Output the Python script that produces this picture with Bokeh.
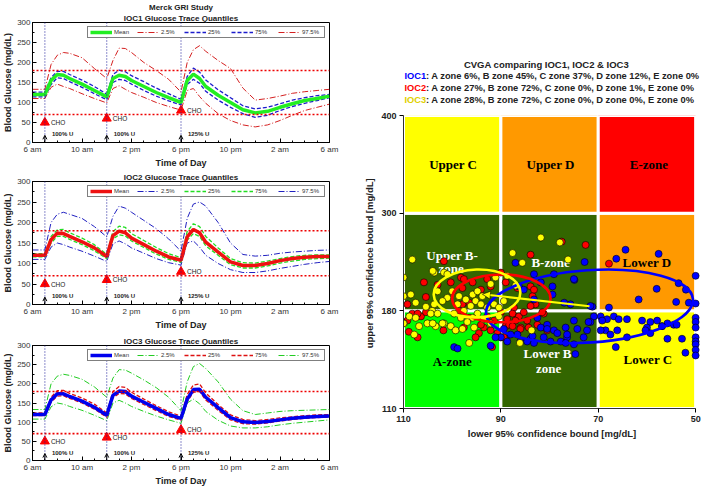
import numpy as np
from bokeh.plotting import figure
from bokeh.models import (Range1d, FixedTicker, Span, Legend, LegendItem, Arrow, OpenHead,
                          NormalHead, Title, ColumnDataSource)
from bokeh.layouts import row, column
from bokeh.embed import file_html
from bokeh.resources import INLINE
from bokeh.core.properties import value

# ------------------------------------------------------------------ data
hours = [0, 1, 1.5, 2, 2.5, 3, 4, 5, 6, 6.5, 7, 7.5, 8, 9, 10, 11, 12, 12.5, 13, 13.5,
         14, 15, 16, 17, 18, 19, 20, 21, 22, 23, 24]
time_ticks = [0, 4, 8, 12, 16, 20, 24]
time_labels = ["6 am", "10 am", "2 pm", "6 pm", "10 pm", "2 am", "6 am"]
glucose_ticks = [0, 50, 100, 150, 200, 250, 300]
limits = [70, 180]
meal_hours = [1, 6, 12]
cho_marks = [50, 60, 80]
insulin_labels = ["100% U", "100% U", "125% U"]
quantile_names = ["Mean", "2.5%", "25%", "75%", "97.5%"]

ioc1_mean = [120, 120, 155, 170, 168, 160, 146, 130, 114, 160, 168, 165, 155, 140, 125, 112, 100, 155, 171, 160,
             140, 118, 100, 82, 74, 78, 88, 97, 105, 110, 116]
ioc1_q75 = [126, 126, 162, 178, 178, 170, 156, 140, 121, 170, 181, 177, 167, 152, 136, 122, 108, 165, 186, 176,
            156, 132, 112, 92, 84, 88, 97, 106, 112, 117, 120]
ioc1_q25 = [114, 114, 145, 162, 160, 152, 138, 122, 107, 150, 158, 155, 146, 130, 116, 104, 94, 145, 158, 148,
            128, 106, 88, 72, 63, 68, 80, 90, 98, 105, 112]
ioc1_q975 = [133, 133, 195, 218, 225, 223, 212, 185, 160, 205, 236, 235, 225, 200, 180, 158, 126, 200, 232, 242,
             228, 205, 185, 136, 106, 110, 116, 123, 127, 130, 133]
ioc1_q025 = [110, 110, 138, 146, 140, 135, 122, 110, 99, 135, 142, 133, 125, 113, 100, 90, 81, 130, 135, 115,
             98, 72, 55, 44, 39, 44, 55, 68, 80, 88, 96]

ioc2_mean = [120, 120, 158, 174, 173, 166, 153, 138, 117, 168, 179, 175, 162, 146, 130, 116, 108, 165, 183, 175,
             152, 128, 104, 95, 95, 100, 107, 112, 115, 117, 117]
ioc2_q75 = [124, 124, 166, 182, 183, 175, 162, 146, 122, 178, 191, 188, 173, 156, 139, 124, 114, 178, 197, 190,
            166, 138, 112, 102, 101, 106, 112, 117, 120, 121, 121]
ioc2_q25 = [116, 116, 150, 166, 166, 159, 146, 131, 112, 160, 170, 167, 155, 139, 123, 110, 103, 157, 173, 166,
            143, 120, 97, 89, 89, 94, 101, 106, 110, 112, 113]
ioc2_q975 = [133, 133, 200, 220, 225, 220, 210, 190, 165, 215, 240, 235, 225, 205, 185, 160, 130, 210, 245, 250,
             240, 200, 150, 122, 118, 120, 125, 128, 130, 132, 133]
ioc2_q025 = [110, 110, 140, 150, 146, 140, 130, 118, 105, 148, 155, 148, 138, 125, 112, 102, 96, 150, 155, 140,
             120, 100, 85, 78, 78, 82, 88, 93, 98, 102, 105]

ioc3_mean = [120, 120, 158, 174, 174, 167, 155, 139, 118, 170, 181, 180, 168, 152, 136, 120, 110, 160, 185, 186,
             165, 138, 112, 101, 99, 102, 106, 110, 113, 115, 116]
ioc3_q75 = [124, 124, 165, 182, 183, 175, 163, 147, 124, 180, 193, 191, 178, 160, 143, 127, 116, 172, 197, 200,
            176, 146, 119, 107, 104, 107, 111, 114, 117, 119, 120]
ioc3_q25 = [117, 117, 152, 168, 169, 162, 150, 134, 113, 163, 175, 174, 162, 146, 130, 115, 105, 153, 178, 180,
            158, 131, 106, 96, 95, 98, 103, 107, 110, 112, 113]
ioc3_q975 = [133, 133, 200, 220, 225, 222, 212, 192, 165, 215, 237, 236, 228, 210, 190, 165, 130, 205, 245, 253,
             240, 205, 160, 130, 120, 124, 128, 130, 131, 132, 133]
ioc3_q025 = [108, 108, 140, 150, 147, 141, 131, 118, 104, 150, 157, 150, 141, 128, 116, 106, 97, 150, 160, 148,
             128, 105, 90, 85, 85, 88, 93, 97, 100, 103, 106]

# CVGA: lower 95% bound (x) and upper 95% bound (y), mg/dL
cvga_x_ticks = [110, 90, 70, 50]
cvga_y_ticks = [110, 180, 300, 400]

ioc1_pts = [(64.4, 255), (66.3, 244), (57.6, 250), (50.0, 223), (53.5, 214), (52.0, 206), (58.0, 207),
            (61.7, 194), (54.0, 191), (51.4, 190), (50.0, 189), (74.9, 218), (72.8, 240), (71.2, 185),
            (67.8, 184), (71.6, 186), (75.7, 188), (79.4, 200), (81.8, 215), (87.0, 239), (86.3, 210),
            (83.2, 194), (69.5, 176), (68.2, 174), (66.8, 176), (65.8, 174), (64.1, 174), (61.0, 173),
            (59.3, 172), (57.9, 173), (55.8, 171), (54.5, 170), (50.0, 175), (50.0, 172), (50.0, 168),
            (50.0, 161), (50.0, 158), (50.0, 156), (50.0, 152), (50.0, 148), (52.1, 150), (52.8, 160),
            (55.8, 160), (56.9, 169), (60.0, 168), (59.3, 164), (66.4, 154), (66.1, 166), (64.1, 161),
            (68.5, 166), (67.5, 163), (69.2, 173), (70.9, 176), (71.6, 172), (72.3, 166), (73.0, 161),
            (75.0, 156), (74.7, 149), (76.4, 161), (77.7, 158), (79.1, 166), (80.5, 170), (81.8, 168),
            (83.9, 160), (86.0, 158), (86.6, 163), (88.7, 158), (90.0, 161), (91.1, 161), (99.6, 154),
            (98.9, 153), (83.2, 225), (79.1, 225), (75.0, 219), (85.3, 206), (79.4, 210), (77.0, 190),
            (82.5, 175), (80.5, 167), (78.4, 164), (76.7, 168), (75.0, 173), (74.3, 167), (76.4, 163),
            (76.7, 157), (79.8, 158), (81.2, 161), (83.5, 162), (83.2, 157), (84.6, 158), (88.0, 163),
            (89.4, 167), (92.1, 155), (72.0, 172), (69.5, 166), (60.3, 166), (53.9, 170), (56.9, 169)]
ioc2_pts = [(105.8, 215), (103.0, 212), (100.3, 215), (98.2, 221), (97.9, 208), (95.8, 215), (92.8, 219),
            (92.1, 210), (94.1, 206), (90.0, 227), (89.0, 215), (86.6, 208), (83.9, 210), (83.5, 198),
            (82.9, 188), (87.3, 184), (87.6, 178), (86.3, 176), (85.3, 179), (84.6, 173), (87.0, 173),
            (88.7, 174), (90.0, 179), (89.0, 169), (90.7, 164), (92.1, 166), (93.5, 168), (94.5, 164),
            (95.2, 161), (94.1, 170), (96.5, 175), (97.6, 168), (98.6, 180), (106.4, 176), (108.2, 178),
            (109.2, 173), (105.4, 179), (107.1, 178), (82.5, 170), (81.2, 178), (80.5, 166), (109.2, 188),
            (96.5, 190), (97.9, 188), (92.8, 176), (91.4, 173), (83.9, 186), (85.9, 168), (90.0, 161),
            (105.4, 197), (101.7, 241), (108.9, 165), (107.1, 161), (101.8, 166), (72.6, 261), (83.9, 249),
            (67.8, 238), (83.2, 206), (81.5, 179), (91.8, 154), (88.3, 170), (97.6, 219), (77.5, 265),
            (87.6, 169), (86.0, 167), (84.3, 168), (89.4, 161)]
ioc3_pts = [(110.0, 198), (108.5, 200), (107.5, 190), (105.4, 185), (104.1, 180), (103.7, 188), (108.8, 176),
            (109.9, 171), (107.8, 163), (106.8, 169), (105.1, 171), (104.4, 178), (103.0, 178), (103.4, 169),
            (101.7, 171), (100.3, 169), (99.3, 166), (97.9, 167), (96.5, 157), (97.6, 180), (98.9, 188),
            (101.0, 196), (100.0, 204), (98.6, 198), (97.2, 194), (95.8, 200), (94.8, 204), (95.2, 192),
            (94.1, 188), (92.8, 184), (91.4, 188), (90.4, 184), (89.4, 192), (94.8, 178), (93.5, 174),
            (95.8, 175), (96.9, 172), (95.5, 168), (92.1, 213), (91.1, 221), (88.7, 223), (87.0, 211),
            (103.7, 227), (101.7, 227), (103.0, 204), (102.0, 192), (98.2, 175), (96.2, 186), (93.8, 198),
            (90.4, 176), (92.1, 171), (99.6, 178), (108.2, 243), (110.0, 221), (104.0, 229), (101.0, 225),
            (110.0, 171), (107.5, 175), (87.6, 251), (85.6, 239), (77.9, 264), (83.7, 166), (86.1, 157),
            (81.8, 270), (76.2, 243), (102.0, 171), (104.0, 171)]

# ellipse centres (mg/dL) and extents (zone units) for IOC1, IOC2, IOC3
ell_lower = [71.8, 89.9, 94.9]
ell_upper = [185.5, 195.3, 201.4]
ell_width = [2.13, 1.01, 0.89]
ell_height = [0.74, 0.49, 0.49]
ell_angle = [0.07, 0.0, 0.03]

cvga_title = "CVGA comparing IOC1, IOC2 & IOC3"
cvga_lines = [
    ("IOC1", ": A zone 6%, B zone 45%, C zone  37%, D zone  12%, E zone 0%"),
    ("IOC2", ": A zone 27%, B zone 72%, C zone  0%, D zone  1%, E zone 0%"),
    ("IOC3", ": A zone 28%, B zone 72%, C zone  0%, D zone  0%, E zone 0%"),
]

SANS = "Liberation Sans"
SERIF = "Liberation Serif"


# ------------------------------------------------------------------ left panels
def quantile_panel(titles, mean, q025, q25, q75, q975, c_mean, c_outer, c_inner, height, bottom):
    p = figure(width=351, height=height, title=None, x_range=Range1d(0, 24), y_range=Range1d(0, 300),
               output_backend="svg", toolbar_location=None,
               min_border_left=2, min_border_right=22, min_border_top=2, min_border_bottom=bottom)
    for t in titles:
        p.add_layout(Title(text=t, align="center", text_font=SANS, text_font_size="8px",
                           text_font_style="bold", text_color="#222222", standoff=0, offset=0), "above")
    p.outline_line_color = "black"
    p.outline_line_width = 1
    p.xgrid.visible = False
    p.ygrid.visible = False

    for lim in limits:
        p.add_layout(Span(location=lim, dimension="width", line_color="#ee0000",
                          line_width=1.6, line_dash="2 2"))
    for mh in meal_hours:
        p.add_layout(Span(location=mh, dimension="height", line_color="#1a1a99",
                          line_width=1, line_dash="1 2"))

    r975 = p.line(hours, q975, line_color=c_outer, line_width=1, line_dash="6 2 1 2")
    r025 = p.line(hours, q025, line_color=c_outer, line_width=1, line_dash="6 2 1 2")
    r75 = p.line(hours, q75, line_color=c_inner, line_width=1.3, line_dash="4 2")
    r25 = p.line(hours, q25, line_color=c_inner, line_width=1.3, line_dash="4 2")
    rm = p.line(hours, mean, line_color=c_mean, line_width=3.5)

    src = ColumnDataSource(dict(x=meal_hours, cho=cho_marks, ins=insulin_labels,
                                base=[0] * len(meal_hours), tip=[18] * len(meal_hours)))
    p.scatter("x", "cho", source=src, marker="triangle", size=9, fill_color="#ff0000",
              line_color="#ff0000")
    p.text("x", "cho", text=value("CHO"), source=src, x_offset=6, text_font=value(SANS),
           text_font_size="6.5px", text_baseline="middle", text_color="#222222")
    p.add_layout(Arrow(end=OpenHead(size=4, line_width=1, line_color="black"),
                       x_start="x", y_start="base", x_end="x", y_end="tip", source=src,
                       line_color="black", line_width=1))
    p.text("x", "tip", text="ins", source=src, x_offset=7, y_offset=-1, text_font=value(SANS),
           text_font_size="6px", text_font_style="bold", text_baseline="middle",
           text_color="#222222")

    legend = Legend(items=[LegendItem(label=quantile_names[0], renderers=[rm]),
                           LegendItem(label=quantile_names[1], renderers=[r025]),
                           LegendItem(label=quantile_names[2], renderers=[r25]),
                           LegendItem(label=quantile_names[3], renderers=[r75]),
                           LegendItem(label=quantile_names[4], renderers=[r975])],
                    orientation="horizontal", location="top_right",
                    label_text_font=SANS, label_text_font_size="6px", label_text_color="#333333",
                    glyph_width=22, glyph_height=6, label_standoff=2, spacing=3,
                    padding=2, margin=4, label_height=6,
                    border_line_color="black", border_line_width=1, background_fill_alpha=1)
    p.add_layout(legend)

    p.xaxis.ticker = FixedTicker(ticks=time_ticks, minor_ticks=list(range(0, 25)))
    p.xaxis.major_label_overrides = {t: l for t, l in zip(time_ticks, time_labels)}
    p.yaxis.ticker = FixedTicker(ticks=glucose_ticks, minor_ticks=list(range(0, 301, 25)))
    p.xaxis.axis_label = "Time of Day"
    p.yaxis.axis_label = "Blood Glucose (mg/dL)"
    for ax in (p.xaxis, p.yaxis):
        ax.axis_label_text_font = SANS
        ax.axis_label_text_font_style = "bold"
        ax.axis_label_text_font_size = "9px"
        ax.axis_label_text_color = "#222222"
        ax.axis_label_standoff = 1
        ax.major_label_text_font = SANS
        ax.major_label_text_font_size = "8px"
        ax.major_label_text_color = "#333333"
        ax.major_label_standoff = 2
        ax.major_tick_in = 4
        ax.major_tick_out = 0
        ax.minor_tick_in = 2
        ax.minor_tick_out = 0
        ax.axis_line_color = "black"
    return p


p1 = quantile_panel(["IOC1 Glucose Trace Quantiles", "Merck GRI Study"],
                    ioc1_mean, ioc1_q025, ioc1_q25, ioc1_q75, ioc1_q975,
                    "#22ee22", "#d42020", "#1c1ccc", 170, 27)
p2 = quantile_panel(["IOC2 Glucose Trace Quantiles"],
                    ioc2_mean, ioc2_q025, ioc2_q25, ioc2_q75, ioc2_q975,
                    "#ee1111", "#2020c0", "#22dd22", 164, 30)
p3 = quantile_panel(["IOC3 Glucose Trace Quantiles"],
                    ioc3_mean, ioc3_q025, ioc3_q25, ioc3_q75, ioc3_q975,
                    "#0000ee", "#22cc22", "#dd1111", 154, 20)

# ------------------------------------------------------------------ CVGA title block
RW = 352
BL, BR = 52, 3          # same side borders as the CVGA panel, so frames coincide
tf = figure(width=RW, height=107, x_range=Range1d(BL, RW - BR), y_range=Range1d(107, 0),
            output_backend="svg", toolbar_location=None, x_axis_type=None, y_axis_type=None,
            min_border_left=BL, min_border_right=BR, min_border_top=0, min_border_bottom=0,
            title=None)
tf.outline_line_color = None
tf.xgrid.visible = False
tf.ygrid.visible = False
tf.text([195], [64], text=[cvga_title], text_font=value(SANS), text_font_style="bold",
        text_font_size="9.5px", text_align="center", text_baseline="middle", text_color="#222222")
prefix_cols = ["#0000ff", "#ff0000", "#e0d000"]
line_y = [75.5, 87, 99]
x_start = BL + 1
prefix_w = 21.5
tf.text([x_start] * 3, line_y, text=[l[0] for l in cvga_lines], text_color=prefix_cols,
        text_font=value(SANS), text_font_style="bold", text_font_size="9.3px",
        text_align="left", text_baseline="middle")
tf.text([x_start + prefix_w] * 3, line_y, text=[l[1] for l in cvga_lines], text_color="#222222",
        text_font=value(SANS), text_font_style="bold", text_font_size="9.3px",
        text_align="left", text_baseline="middle")


# ------------------------------------------------------------------ CVGA panel
def to_u(x):
    return np.interp(x, cvga_x_ticks[::-1], [3, 2, 1, 0])


def to_v(y):
    return np.interp(y, cvga_y_ticks, [0, 1, 2, 3])


c = figure(width=RW, height=336, title=None, x_range=Range1d(0, 3.05), y_range=Range1d(0, 3),
           output_backend="svg", toolbar_location=None,
           min_border_left=BL, min_border_right=BR, min_border_top=8, min_border_bottom=35)
c.outline_line_color = None
c.xgrid.visible = False
c.ygrid.visible = False

zone_colors = [["#00ff00", "#336600", "#ffff00"],
               ["#336600", "#336600", "#ff9900"],
               ["#ffff00", "#ff9900", "#ff0000"]]
ql, qr, qb, qt, qc = [], [], [], [], []
for j in range(3):
    for i in range(3):
        ql.append(i); qr.append(i + 1); qb.append(j); qt.append(j + 1)
        qc.append(zone_colors[j][i])
c.quad(left=ql, right=qr, bottom=qb, top=qt, fill_color=qc, line_color="white", line_width=3)

zone_text = ["Upper C", "Upper D", "E-zone", "Upper B-", "zone", "B-zone", "Lower D",
             "A-zone", "Lower B", "zone", "Lower C"]
zone_tu = [0.51, 1.51, 2.52, 0.50, 0.49, 1.51, 2.50, 0.50, 1.48, 1.49, 2.51]
zone_tv = [2.50, 2.50, 2.50, 1.57, 1.43, 1.49, 1.49, 0.48, 0.56, 0.41, 0.50]
zone_tc = ["black", "black", "black", "white", "white", "white", "black",
           "black", "white", "white", "black"]
c.text(zone_tu, zone_tv, text=zone_text, text_color=zone_tc, text_font=value(SERIF),
       text_font_style="bold", text_font_size="13px", text_align="center", text_baseline="middle")

for pts, col in ((ioc2_pts, "#ff0000"), (ioc1_pts, "#0000ff"), (ioc3_pts, "#ffff00")):
    xs = to_u([p_[0] for p_ in pts])
    ys = to_v([p_[1] for p_ in pts])
    c.scatter(xs, ys, size=7, fill_color=col, line_color="black", line_width=0.6)

ell_cols = ["#0000ff", "#ff0000", "#ffff00"]
c.ellipse(x=to_u(ell_lower), y=to_v(ell_upper), width=ell_width, height=ell_height,
          angle=ell_angle, fill_color=None, line_color=ell_cols, line_width=2.6)

c.add_layout(Arrow(end=NormalHead(size=8, fill_color="#ffff00", line_color="black", line_width=0.6),
                   x_start=float(to_u(ell_lower[0])), y_start=float(to_v(ell_upper[0])),
                   x_end=float(to_u(93.8)), y_end=float(to_v(200.4)),
                   line_color="#ffff00", line_width=2))

c.xaxis.ticker = FixedTicker(ticks=[0, 1, 2, 3], minor_ticks=[])
c.xaxis.major_label_overrides = {i: str(t) for i, t in enumerate(cvga_x_ticks)}
c.yaxis.ticker = FixedTicker(ticks=[0, 1, 2, 3], minor_ticks=[])
c.yaxis.major_label_overrides = {i: str(t) for i, t in enumerate(cvga_y_ticks)}
c.xaxis.axis_label = "lower 95% confidence bound [mg/dL]"
c.yaxis.axis_label = "upper 95%  confidence bound [mg/dL]"
c.xaxis.bounds = (0, 3)
for ax in (c.xaxis, c.yaxis):
    ax.axis_label_text_font = SANS
    ax.axis_label_text_font_style = "bold"
    ax.axis_label_text_font_size = "9.5px"
    ax.axis_label_text_color = "#222222"
    ax.axis_label_standoff = 3
    ax.major_label_text_font = SANS
    ax.major_label_text_font_style = "bold"
    ax.major_label_text_font_size = "9px"
    ax.major_label_text_color = "#222222"
    ax.major_label_standoff = 3
    ax.major_tick_in = 0
    ax.major_tick_out = 4
    ax.axis_line_color = "#333333"

layout = row(column(p1, p2, p3), column(tf, c))
open("out.html", "w").write(file_html(layout, INLINE))
